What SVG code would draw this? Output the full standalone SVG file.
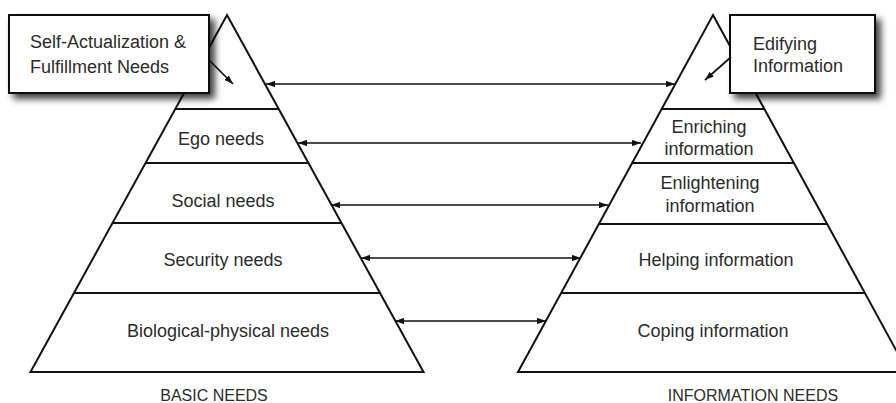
<svg xmlns="http://www.w3.org/2000/svg" width="896" height="403" viewBox="0 0 896 403">
<defs>
<style>
.tri{fill:none;stroke:#111;stroke-width:2;stroke-linejoin:miter}
.band{stroke:#111;stroke-width:2}
.t{font-family:"Liberation Sans",Arial,sans-serif;font-size:18px;fill:#2b2b2b}
.c{text-anchor:middle}
.cap{font-family:"Liberation Sans",Arial,sans-serif;font-size:16px;fill:#2b2b2b;text-anchor:middle}
.box{fill:#fff;stroke:#111;stroke-width:2;filter:url(#sh)}
.con{fill:none;stroke:#111;stroke-width:1.7;marker-end:url(#ah)}
.dbl{marker-start:url(#ah)}
</style>
<marker id="ah" markerUnits="userSpaceOnUse" viewBox="0 0 10 7" markerWidth="9" markerHeight="6.5" refX="10" refY="3.5" orient="auto-start-reverse">
<path d="M0,0 L10,3.5 L0,7 z" fill="#111"/>
</marker>
<filter id="sh" x="-20%" y="-30%" width="150%" height="180%">
<feDropShadow dx="5" dy="5" stdDeviation="3.5" flood-color="#000" flood-opacity="0.75"/>
</filter>
</defs>
<rect width="896" height="403" fill="#fff"/>

<g id="basic-pyramid">
<polygon class="tri" points="227,15 423.5,372 30.5,372"/>
<g id="self-actualization-band"><line class="band" x1="175.3" y1="109" x2="278.7" y2="109"/></g>
<g id="ego-needs"><line class="band" x1="145.5" y1="163" x2="308.5" y2="163"/><text class="t c" x="221" y="145">Ego needs</text></g>
<g id="social-needs"><line class="band" x1="112.5" y1="223" x2="341.5" y2="223"/><text class="t c" x="223" y="207">Social needs</text></g>
<g id="security-needs"><line class="band" x1="74" y1="293" x2="380" y2="293"/><text class="t c" x="223" y="266">Security needs</text></g>
<g id="biological-needs"><text class="t c" x="228" y="337">Biological-physical needs</text></g>
<g id="basic-needs-label"><text class="cap" x="214" y="401">BASIC NEEDS</text></g>
</g>

<g id="information-pyramid">
<polygon class="tri" points="713,15 908,372 518,372"/>
<g id="edifying-band"><line class="band" x1="661.7" y1="109" x2="764.3" y2="109"/></g>
<g id="enriching-information"><line class="band" x1="632.2" y1="163" x2="793.8" y2="163"/><text class="t c" x="709" y="133">Enriching</text><text class="t c" x="709" y="155">information</text></g>
<g id="enlightening-information"><line class="band" x1="598.8" y1="224" x2="827.2" y2="224"/><text class="t c" x="710" y="189">Enlightening</text><text class="t c" x="710" y="212">information</text></g>
<g id="helping-information"><line class="band" x1="561.2" y1="293" x2="864.8" y2="293"/><text class="t c" x="716" y="266">Helping information</text></g>
<g id="coping-information"><text class="t c" x="713" y="337">Coping information</text></g>
<g id="information-needs-label"><text class="cap" x="753" y="401">INFORMATION NEEDS</text></g>
</g>

<g id="connectors">
<line class="con dbl" x1="266" y1="84" x2="675" y2="84"/>
<line class="con dbl" x1="298" y1="143" x2="641" y2="143"/>
<line class="con dbl" x1="331" y1="205" x2="608" y2="205"/>
<line class="con dbl" x1="361" y1="258" x2="581" y2="258"/>
<line class="con dbl" x1="395" y1="321" x2="546" y2="321"/>
</g>

<g id="self-actualization-box">
<rect class="box" x="9" y="15" width="200" height="78"/>
<text class="t" x="30" y="48">Self-Actualization &amp;</text>
<text class="t" x="30" y="73">Fulfillment Needs</text>
</g>
<g id="edifying-box">
<rect class="box" x="730" y="15" width="145" height="78"/>
<text class="t" x="753" y="50">Edifying</text>
<text class="t" x="753" y="72">Information</text>
</g>

<g id="box-connectors">
<line class="con" x1="209" y1="60" x2="233" y2="84"/>
<line class="con" x1="731" y1="57" x2="705" y2="80"/>
</g>
</svg>
